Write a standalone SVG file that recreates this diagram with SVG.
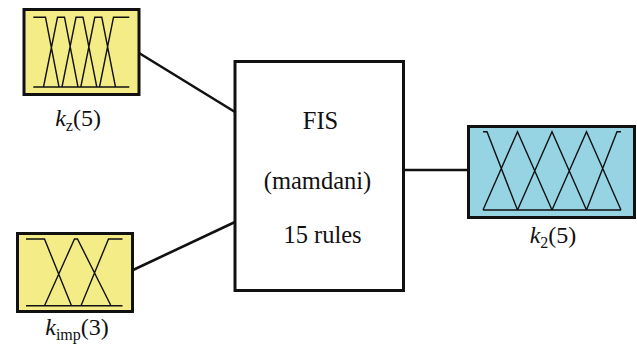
<svg xmlns="http://www.w3.org/2000/svg" width="637" height="356" viewBox="0 0 637 356">
<style>
.box{stroke:#111;stroke-width:3}
.in{fill:#F4ED87}
.out{fill:#96D4E4}
.mf{fill:none;stroke:#111;stroke-width:1.4;stroke-linejoin:miter}
.conn{stroke:#111;stroke-width:2.6;fill:none}
.t{font-size:24.5px;text-anchor:middle;fill:#111}
.lbl{font-size:24px;text-anchor:middle;fill:#111}
.sub{font-size:16px}
</style>
<rect width="637" height="356" fill="#fff"/>
<g id="connectors">
<line class="conn" x1="139" y1="53" x2="235" y2="112"/>
<line class="conn" x1="133" y1="270" x2="235" y2="222"/>
<line class="conn" x1="404" y1="170" x2="468" y2="170"/>
</g>
<g id="kz">
<rect class="box in" x="24" y="9.5" width="115" height="85"/>
<path class="mf" d="M33.3,87 H129.3 M33.3,17.3 H45.5 L59,87 M43.5,87 L57.5,17.3 H64.5 L78,87 M62,87 L76,17.3 H83 L96.8,87 M80.8,87 L94.8,17.3 H101.8 L115.5,87 M99.5,87 L113.5,17.3 H129.3"/>
<text class="lbl" x="78" y="126" font-family="'Liberation Serif', 'DejaVu Serif', serif"><tspan font-style="italic">k</tspan><tspan class="sub" dy="5">z</tspan><tspan dy="-5">(5)</tspan></text>
</g>
<g id="kimp">
<rect class="box in" x="17.5" y="233.5" width="115" height="78"/>
<path class="mf" d="M26,305.7 H122.5 M26,239 H44.5 L71.5,305.7 M44.5,305.7 L74.5,239 H77.5 L111,305.7 M81,305.7 L108.5,239 H122.5"/>
<text class="lbl" x="77" y="335" font-family="'Liberation Serif', 'DejaVu Serif', serif"><tspan font-style="italic">k</tspan><tspan class="sub" dy="5">imp</tspan><tspan dy="-5">(3)</tspan></text>
</g>
<g id="fis">
<rect class="box" x="235" y="61.5" width="168.5" height="229" fill="#fff"/>
<text class="t" x="320.5" y="129" font-family="'Liberation Serif', 'DejaVu Serif', serif">FIS</text>
<text class="t" x="317.5" y="189" font-family="'Liberation Serif', 'DejaVu Serif', serif">(mamdani)</text>
<text class="t" x="322.5" y="243" font-family="'Liberation Serif', 'DejaVu Serif', serif">15 rules</text>
</g>
<g id="k2">
<rect class="box out" x="468.5" y="126.5" width="166" height="91"/>
<path class="mf" d="M483,210 H621 M483,131.7 H487 L517.5,210 M483,210 L517.5,131.7 L552,210 M517.5,210 L552,131.7 L586.5,210 M552,210 L586.5,131.7 L621,210 M586.5,210 L617,131.7 H621"/>
<text class="lbl" x="553" y="243" font-family="'Liberation Serif', 'DejaVu Serif', serif"><tspan font-style="italic">k</tspan><tspan class="sub" dy="5">2</tspan><tspan dy="-5">(5)</tspan></text>
</g>
</svg>
